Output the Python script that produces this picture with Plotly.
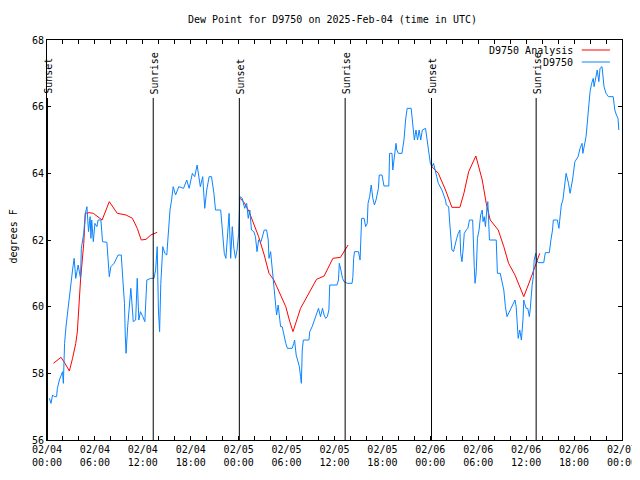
import pandas as pd
import plotly.graph_objects as go

BASE = pd.Timestamp("2025-02-04 00:00")

# Observed dew point (hours since 2025-02-04 00:00 UTC, degrees F)
obs_hours = [0.3, 0.5, 0.7, 0.9, 1.2, 1.3, 1.55, 1.75, 1.95, 2.05, 2.1, 2.2, 2.4, 2.6, 2.9, 3.2, 3.4, 3.6, 3.9, 4.2,
             4.3, 4.6, 4.8, 5.0, 5.2, 5.4, 5.5, 5.6, 5.8, 6.0, 6.25, 6.4, 6.75, 6.95, 7.5, 7.7, 7.8, 8.0, 8.4, 8.9,
             9.3, 9.5, 9.7, 9.8, 9.9, 10.1, 10.3, 10.5, 10.7, 10.8, 11.1, 11.3, 11.5, 11.7, 12.0, 12.25, 12.5, 13.0, 13.4, 13.6,
             13.8, 13.95, 14.1, 14.25, 14.5, 14.75, 15.0, 15.2, 15.4, 15.6, 15.8, 16.1, 16.5, 17.1, 17.5, 17.8, 18.2, 18.5, 18.8, 19.2,
             19.5, 19.75, 20.0, 20.3, 20.6, 20.9, 21.1, 21.75, 21.95, 22.2, 22.4, 22.6, 22.8, 23.0, 23.2, 23.4, 23.6, 23.8, 24.0, 24.15,
             24.45, 24.75, 25.0, 25.2, 25.4, 25.6, 25.9, 26.1, 26.3, 26.5, 26.8, 27.2, 27.5, 27.7, 27.8, 28.0, 28.2, 28.4, 28.6, 28.75,
             28.95, 29.1, 29.25, 29.45, 29.7, 29.9, 30.1, 30.7, 30.9, 31.0, 31.2, 31.4, 31.6, 31.75, 31.85, 31.96, 32.1, 32.8, 32.9, 33.2,
             33.5, 33.8, 34.0, 34.25, 34.5, 34.7, 34.9, 35.1, 35.3, 35.4, 36.3, 36.5, 36.6, 36.8, 37.0, 37.2, 37.6, 38.2, 38.3, 38.4,
             38.5, 39.0, 39.2, 39.25, 39.4, 39.7, 39.9, 40.1, 40.2, 40.4, 40.6, 40.8, 41.0, 41.2, 41.5, 41.6, 41.95, 42.2, 42.8, 42.9,
             43.2, 43.3, 43.5, 43.7, 43.8, 44.0, 44.45, 44.7, 44.9, 45.1, 45.6, 45.8, 46.0, 46.2, 46.4, 46.6, 46.8, 47.0, 47.4, 47.6,
             47.8, 48.0, 48.2, 48.4, 48.8, 49.0, 49.45, 49.9, 50.0, 50.3, 50.4, 50.5, 50.7, 50.9, 51.1, 51.3, 51.5, 51.7, 51.8, 51.96,
             52.1, 52.25, 52.5, 52.7, 52.9, 53.3, 53.5, 53.6, 53.75, 53.9, 54.1, 54.3, 54.5, 54.6, 54.75, 54.9, 55.1, 55.2, 55.3, 55.4,
             56.25, 56.4, 56.75, 57.2, 57.4, 57.6, 58.0, 58.2, 58.6, 58.75, 58.9, 59.0, 59.2, 59.4, 59.6, 59.7, 59.8, 60.0, 60.2, 60.4,
             60.5, 60.6, 60.75, 60.9, 61.0, 61.2, 61.3, 61.5, 62.2, 62.4, 62.9, 63.1, 63.3, 63.4, 63.9, 64.1, 64.4, 64.6, 64.8, 65.0,
             65.3, 65.5, 65.8, 66.0, 66.1, 66.5, 66.75, 67.0, 67.1, 67.5, 67.6, 67.8, 68.0, 68.2, 68.4, 68.5, 68.7, 68.9, 69.1, 69.25,
             69.5, 69.6, 69.75, 70.0, 70.3, 70.9, 71.1, 71.3, 71.5, 71.6]
obs_values = [57.25, 57.1, 57.35, 57.3, 57.3, 57.55, 57.8, 57.95, 58.05, 57.7, 58.1, 58.9, 59.45, 59.9, 60.6, 61.1, 61.45, 60.85, 61.25, 60.85,
              61.75, 62.2, 62.8, 63.0, 62.25, 62.7, 62.05, 62.6, 61.95, 62.5, 62.4, 62.6, 62.6, 61.95, 61.93, 61.2, 60.9, 61.2, 61.3, 61.55,
              61.55, 60.8, 60.1, 59.15, 58.6, 59.4, 60.1, 60.55, 59.9, 59.55, 59.6, 60.85, 59.6, 59.85, 59.7, 59.55, 60.8, 60.85, 60.85, 61.1,
              61.8, 59.9, 59.25, 60.7, 61.8, 61.6, 61.55, 62.3, 62.9, 63.2, 63.6, 63.35, 63.6, 63.55, 63.8, 63.55, 64.0, 63.9, 64.25, 63.6,
              63.9, 62.95, 63.5, 63.9, 63.9, 63.4, 62.9, 62.9, 62.2, 61.6, 61.45, 62.1, 62.8, 61.45, 62.4, 61.75, 61.45, 61.7, 62.2, 63.3,
              63.25, 62.95, 63.1, 62.65, 62.9, 62.3, 62.25, 62.1, 61.65, 62.0, 61.95, 62.3, 62.3, 62.0, 61.45, 61.65, 61.15, 60.55, 60.2, 59.75,
              60.05, 59.8, 59.4, 59.4, 59.1, 58.9, 58.75, 58.75, 58.9, 59.0, 58.55, 58.4, 58.2, 57.9, 57.7, 58.7, 59.0, 59.0, 59.25, 59.4,
              59.6, 59.75, 59.95, 59.7, 59.95, 59.75, 59.65, 59.7, 59.9, 60.65, 60.65, 60.8, 61.3, 61.1, 60.85, 60.75, 60.7, 60.7, 60.9, 61.45,
              61.65, 61.65, 61.4, 61.7, 62.65, 62.65, 62.4, 62.5, 63.1, 63.3, 63.65, 63.25, 63.05, 63.2, 63.55, 63.95, 63.95, 63.62, 63.62, 64.6,
              64.6, 64.1, 64.5, 64.9, 64.7, 64.6, 64.6, 65.0, 65.6, 65.95, 65.95, 65.35, 65.0, 65.3, 65.0, 65.3, 65.0, 65.3, 65.35, 65.0,
              64.6, 64.3, 64.2, 64.3, 63.9, 63.7, 63.5, 63.2, 63.05, 63.0, 62.6, 62.3, 61.7, 61.65, 61.9, 62.05, 62.2, 62.3, 61.6, 61.35,
              61.7, 62.2, 62.3, 62.35, 62.6, 62.6, 61.2, 60.7, 61.05, 62.05, 62.3, 62.75, 62.9, 62.55, 62.7, 62.4, 63.0, 63.15, 62.6, 62.0,
              62.0, 61.0, 61.0, 60.5, 60.0, 59.7, 59.9, 60.0, 60.2, 60.0, 59.35, 59.05, 59.3, 59.0, 59.6, 60.2, 60.1, 59.95, 59.95, 59.7,
              59.9, 60.35, 60.65, 60.9, 61.4, 61.6, 61.4, 61.32, 61.32, 61.62, 61.62, 62.0, 62.3, 62.6, 62.6, 62.35, 63.05, 63.2, 63.6, 64.0,
              63.7, 63.4, 63.8, 64.2, 64.35, 64.5, 64.75, 64.9, 64.6, 65.1, 65.4, 66.0, 66.45, 66.7, 66.85, 66.6, 66.9, 67.1, 66.75, 67.15,
              67.2, 66.85, 66.6, 66.4, 66.3, 66.3, 65.9, 65.75, 65.65, 65.3]

# Analysis (None breaks the line between segments)
ana_hours = [0.8, 1.75, 2.25, 2.8, 3.2, 3.6, 3.8, 4.2, 4.6, 4.8, 5.3, 5.8, 6.9, 7.8, 8.8, 9.9, 10.7, 11.3, 11.8, 12.4, 13.0, 13.8,
             18.0,
             24.2, 24.7, 25.3, 25.9, 26.5, 27.2, 27.8, 28.4, 29.0, 29.9, 30.4, 30.8, 31.75, 32.8, 33.75, 34.7, 35.8, 36.75, 37.7,
             42.0,
             48.2, 49.0, 49.9, 50.7, 51.7, 52.2, 52.8, 53.7, 54.5, 55.0, 55.5, 56.5, 57.2, 57.8, 58.6, 59.7, 60.5, 61.1, 61.7]
ana_values = [58.3, 58.48, 58.3, 58.07, 58.45, 58.9, 59.25, 60.8, 61.9, 62.8, 62.82, 62.8, 62.6, 63.15, 62.8, 62.75, 62.65, 62.35, 62.0, 62.02, 62.15, 62.23,
              None,
              63.25, 63.12, 62.85, 62.5, 62.1, 61.55, 61.0, 60.8, 60.5, 60.0, 59.55, 59.25, 59.95, 60.4, 60.82, 60.92, 61.45, 61.48, 61.85,
              None,
              64.2, 64.0, 63.5, 62.98, 62.98, 63.4, 64.05, 64.52, 63.8, 63.1, 62.6, 62.3, 61.8, 61.3, 60.95, 60.3, 60.8, 61.2, 61.6]

sun_times = ["2025-02-04 00:04", "2025-02-04 13:18", "2025-02-05 00:05",
             "2025-02-05 13:20", "2025-02-06 00:09", "2025-02-06 13:15"]
sun_labels = ["Sunset", "Sunrise", "Sunset", "Sunrise", "Sunset", "Sunrise"]

tick_vals = ["2025-02-04 00:00", "2025-02-04 06:00", "2025-02-04 12:00", "2025-02-04 18:00",
             "2025-02-05 00:00", "2025-02-05 06:00", "2025-02-05 12:00", "2025-02-05 18:00",
             "2025-02-06 00:00", "2025-02-06 06:00", "2025-02-06 12:00", "2025-02-06 18:00",
             "2025-02-07 00:00"]
tick_text = ["02/04<br>00:00", "02/04<br>06:00", "02/04<br>12:00", "02/04<br>18:00",
             "02/05<br>00:00", "02/05<br>06:00", "02/05<br>12:00", "02/05<br>18:00",
             "02/06<br>00:00", "02/06<br>06:00", "02/06<br>12:00", "02/06<br>18:00",
             "02/07<br>00:00"]

series_names = ["D9750 Analysis", "D9750"]
series_colors = ["#ff0000", "#0a84ff"]

FONT = "DejaVu Sans Mono"

obs_x = BASE + pd.to_timedelta(obs_hours, unit="h")
ana_x = BASE + pd.to_timedelta(ana_hours, unit="h")

fig = go.Figure()
fig.add_trace(go.Scatter(x=ana_x, y=ana_values, mode="lines", name=series_names[0],
                         line=dict(color=series_colors[0], width=1), connectgaps=False))
fig.add_trace(go.Scatter(x=obs_x, y=obs_values, mode="lines", name=series_names[1],
                         line=dict(color=series_colors[1], width=1)))

# Sunrise / sunset markers
for t, lab in zip(sun_times, sun_labels):
    fig.add_shape(type="line", xref="x", yref="paper", x0=t, x1=t, y0=0, y1=0.855,
                  line=dict(color="black", width=1))
    fig.add_annotation(x=t, xref="x", y=0.862, yref="paper", text=lab, textangle=-90,
                       showarrow=False, xanchor="center", yanchor="bottom", xshift=1,
                       font=dict(family=FONT, size=10, color="black"), borderpad=0)

# Gnuplot-style legend (text then line sample)
leg_y = [0.975, 0.945]
for name, col, yy in zip(series_names, series_colors, leg_y):
    fig.add_annotation(x=0.9165, xref="paper", y=yy, yref="paper", text=name, showarrow=False,
                       xanchor="right", yanchor="middle", font=dict(family=FONT, size=10, color="black"),
                       borderpad=0)
    fig.add_shape(type="line", xref="paper", yref="paper", x0=0.930, x1=0.979, y0=yy, y1=yy,
                  line=dict(color=col, width=1))

# y-axis title
fig.add_annotation(x=-0.0583, xref="paper", y=0.51, yref="paper", text="degrees F", textangle=-90,
                   showarrow=False, xanchor="center", yanchor="middle", borderpad=0,
                   font=dict(family=FONT, size=10, color="black"))

# Title
fig.add_annotation(x=0.4965, xref="paper", y=(440 - 19) / 400, yref="paper",
                   text="Dew Point for D9750 on 2025-Feb-04 (time in UTC)", showarrow=False,
                   xanchor="center", yanchor="middle", font=dict(family=FONT, size=10, color="black"))

# page body has an 8px margin: figure is 632x472 so the plot lands where the reference has it
fig.update_layout(
    width=632, height=472,
    margin=dict(l=39, r=18, t=32, b=40, autoexpand=False),
    paper_bgcolor="white", plot_bgcolor="white",
    showlegend=False,
    font=dict(family=FONT, size=10, color="black"),
    xaxis=dict(range=["2025-02-04 00:00", "2025-02-07 00:00"], tickmode="array",
               tickvals=tick_vals, ticktext=tick_text, ticks="inside", ticklen=4,
               tickcolor="black", showgrid=False, zeroline=False, showline=True,
               linecolor="black", linewidth=1, mirror="allticks", automargin=False,
               minor=dict(dtick=2 * 3600 * 1000, ticks="inside", ticklen=4, tickcolor="black", showgrid=False),
               tickfont=dict(family=FONT, size=10, color="black")),
    yaxis=dict(range=[56, 68], dtick=2, tick0=56, ticks="inside", ticklen=4, tickcolor="black",
               showgrid=False, zeroline=False, showline=True, linecolor="black", linewidth=1,
               mirror="allticks", automargin=False, tickfont=dict(family=FONT, size=10, color="black")),
)

fig.write_html("out.html")
